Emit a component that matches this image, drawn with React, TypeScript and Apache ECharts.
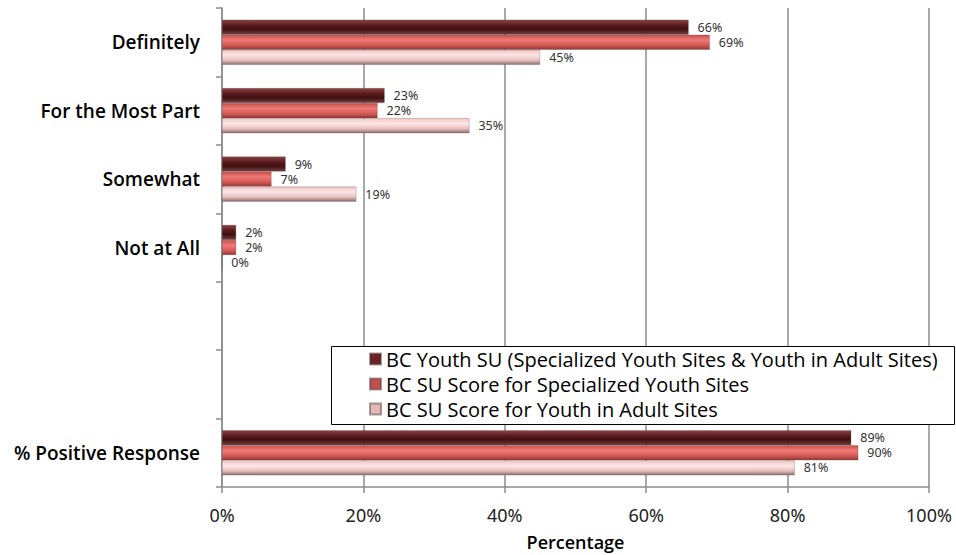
import React, { useEffect, useRef } from "react";
import * as echarts from "echarts";

const categories = ["Definitely", "For the Most Part", "Somewhat", "Not at All", " ", "  ", "% Positive Response"];
const seriesNames = [
  "BC Youth SU (Specialized Youth Sites & Youth in Adult Sites)",
  "BC SU Score for Specialized Youth Sites",
  "BC SU Score for Youth in Adult Sites",
];
const youthAll = [66, 23, 9, 2, null, null, 89];
const youthSpecialized = [69, 22, 7, 2, null, null, 90];
const youthAdult = [45, 35, 19, 0, null, null, 81];
const xTicks = [0, 20, 40, 60, 80, 100];

const legendColors = ["#6b2326", "#c0504d", "#e6b9b8"];
const gradients = [
  [
    [0, "#8a4446"],
    [0.35, "#5c1c1f"],
    [0.65, "#3e1012"],
    [1, "#704042"],
  ],
  [
    [0, "#c64f4c"],
    [0.35, "#f07a76"],
    [0.7, "#d45a56"],
    [1, "#8e3a38"],
  ],
  [
    [0, "#f0c4c4"],
    [0.35, "#fde6e6"],
    [0.7, "#e8c0c0"],
    [1, "#8c6e6e"],
  ],
];

export default function App() {
  const ref = useRef<HTMLDivElement>(null);
  useEffect(() => {
    if (!ref.current) return;
    const chart = echarts.init(ref.current, undefined, { renderer: "svg" });
    const data = [youthAll, youthSpecialized, youthAdult];
    const mkGrad = (i: number) =>
      new echarts.graphic.LinearGradient(
        0,
        0,
        0,
        1,
        gradients[i].map(([offset, color]) => ({ offset: offset as number, color: color as string }))
      );
    chart.setOption({
      animation: false,
      backgroundColor: "#ffffff",
      grid: { left: 222, right: 27, top: 8, bottom: 68, containLabel: false, outerBoundsMode: "none" },
      xAxis: {
        type: "value",
        min: 0,
        max: 100,
        interval: 20,
        name: "Percentage",
        nameLocation: "middle",
        nameGap: 45,
        nameTextStyle: { fontFamily: "Open Sans", fontWeight: 600, fontSize: 18, lineHeight: 20, color: "#000" },
        axisLine: { show: true, lineStyle: { color: "#8c8c8c", width: 1.5 } },
        axisTick: { show: true, length: 6, lineStyle: { color: "#8c8c8c", width: 1.5 } },
        axisLabel: {
          margin: 19,
          fontFamily: "Noto Sans",
          fontSize: 18,
          color: "#222",
          formatter: (v: number) => (xTicks.includes(v) ? v + "%" : ""),
        },
        splitLine: { show: true, lineStyle: { color: "#8c8c8c", width: 1.5 } },
      },
      yAxis: {
        type: "category",
        data: categories,
        inverse: true,
        axisLine: { show: true, lineStyle: { color: "#8c8c8c", width: 1.5 } },
        axisTick: { show: true, length: 6, alignWithLabel: false, lineStyle: { color: "#8c8c8c", width: 1.5 } },
        axisLabel: {
          margin: 22,
          fontFamily: "Open Sans",
          fontWeight: 600,
          fontSize: 19,
          color: "#000",
        },
        splitLine: { show: false },
      },
      legend: {
        orient: "vertical",
        left: 369,
        top: 349,
        z: 20,
        itemWidth: 11,
        itemHeight: 11,
        itemGap: 5,
        padding: 0,
        textStyle: { fontFamily: "Open Sans", fontSize: 20, lineHeight: 20, color: "#000" },
        data: seriesNames.map((n, i) => ({ name: n, icon: "rect", itemStyle: { color: legendColors[i] } })),
      },
      graphic: [
        {
          type: "rect",
          z: 5,
          shape: { x: 331.5, y: 346.5, width: 623, height: 78 },
          style: { fill: "#ffffff", stroke: "#000000", lineWidth: 1 },
        },
      ],
      series: seriesNames.map((name, i) => ({
        name,
        type: "bar",
        data: data[i],
        barGap: "0%",
        barCategoryGap: "34%",
        itemStyle: { color: mkGrad(i), borderColor: "rgba(90,60,60,0.5)", borderWidth: 0.5 },
        label: {
          show: true,
          position: "right",
          distance: 9,
          fontFamily: "Noto Sans",
          fontSize: 12.5,
          lineHeight: 13,
          color: "#333",
          formatter: (p: any) => (p.value === null || p.value === undefined ? "" : p.value + "%"),
        },
      })),
    });
    return () => chart.dispose();
  }, []);
  return (
    <div
      ref={ref}
      style={{ position: "absolute", left: 0, top: 0, width: 956, height: 555 }}
    />
  );
}
